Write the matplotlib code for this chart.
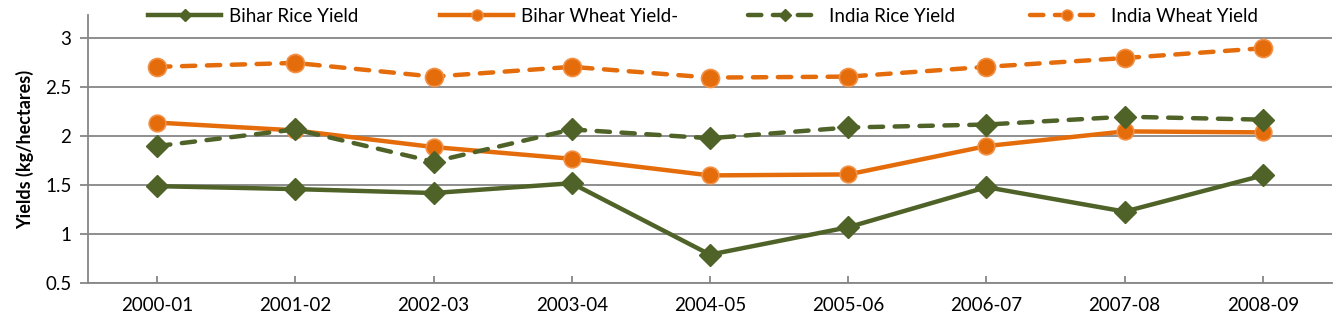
import matplotlib.pyplot as plt
from matplotlib.lines import Line2D

# Datos
years = ['2000-01', '2001-02', '2002-03', '2003-04', '2004-05',
         '2005-06', '2006-07', '2007-08', '2008-09']
bihar_rice = [1.49, 1.46, 1.42, 1.52, 0.79, 1.07, 1.48, 1.23, 1.60]
bihar_wheat = [2.14, 2.06, 1.89, 1.77, 1.60, 1.61, 1.90, 2.05, 2.04]
india_rice = [1.90, 2.07, 1.74, 2.07, 1.98, 2.09, 2.12, 2.20, 2.17]
india_wheat = [2.71, 2.75, 2.61, 2.71, 2.60, 2.61, 2.71, 2.80, 2.90]
labels = ['Bihar Rice Yield', 'Bihar Wheat Yield-', 'India Rice Yield', 'India Wheat Yield']

GREEN = '#4F6228'
ORANGE = '#E46C0A'
GRID = '#868686'
FS = 13.5

plt.rcParams['font.family'] = ['Lato', 'DejaVu Sans']

fig = plt.figure(figsize=(13.43, 3.33), dpi=100)
ax = fig.add_axes([88 / 1343, 50 / 333, 1244 / 1343, 268 / 333])

x = [i + 0.5 for i in range(len(years))]
dash = (3.0, 2.6)

l1, = ax.plot(x, bihar_rice, color=GREEN, lw=3.2, marker='D', ms=11,
              mec=GREEN, zorder=3)
l2, = ax.plot(x, bihar_wheat, color=ORANGE, lw=3.2, marker='o', ms=12,
              mec='#F29045', mew=1.2, zorder=3)
l3, = ax.plot(x, india_rice, color=GREEN, lw=3.2, ls=(0, dash), marker='D', ms=11,
              mec=GREEN, dash_capstyle='round', zorder=3)
l4, = ax.plot(x, india_wheat, color=ORANGE, lw=3.2, ls=(0, dash), marker='o', ms=13,
              mec='#F29045', mew=1.2, dash_capstyle='round', zorder=3)

ax.set_xlim(0, len(years))
ax.set_ylim(0.5, 3.24)
ax.set_xticks(x)
ax.set_xticklabels(years, fontsize=FS)
ax.set_yticks([0.5, 1, 1.5, 2, 2.5, 3])
ax.set_yticklabels(['0.5', '1', '1.5', '2', '2.5', '3'], fontsize=FS)
ax.set_ylabel('Yields (kg/hectares)', fontsize=FS - 0.5, fontweight='bold', labelpad=8)

ax.grid(axis='y', color=GRID, lw=1.3)
ax.set_axisbelow(True)
for s in ['top', 'right']:
    ax.spines[s].set_visible(False)
for s in ['left', 'bottom']:
    ax.spines[s].set_color(GRID)
    ax.spines[s].set_linewidth(1.3)
ax.tick_params(axis='y', direction='out', length=6, color=GRID, width=1.3, pad=6)
ax.tick_params(axis='x', direction='in', length=5, color=GRID, width=1.3, pad=10)

# Leyenda: una entrada por posición
handles = [
    Line2D([], [], color=GREEN, lw=3.2, marker='D', ms=6),
    Line2D([], [], color=ORANGE, lw=3.2, marker='o', ms=8, mec='#F29045'),
    Line2D([], [], color=GREEN, lw=3.2, ls=(0, dash), marker='D', ms=6,
           dash_capstyle='round'),
    Line2D([], [], color=ORANGE, lw=3.2, ls=(0, dash), marker='o', ms=8,
           mec='#F29045', dash_capstyle='round'),
]
starts = [148, 440, 748, 1030]
for h, lab, sx in zip(handles, labels, starts):
    leg = fig.legend([h], [lab], loc='center left', bbox_to_anchor=(sx / 1343, 1 - 16 / 333),
                     frameon=False, fontsize=FS, handlelength=3.9, borderaxespad=0,
                     borderpad=0, handletextpad=0.4)

fig.savefig('out.png', dpi=100, facecolor='white')
